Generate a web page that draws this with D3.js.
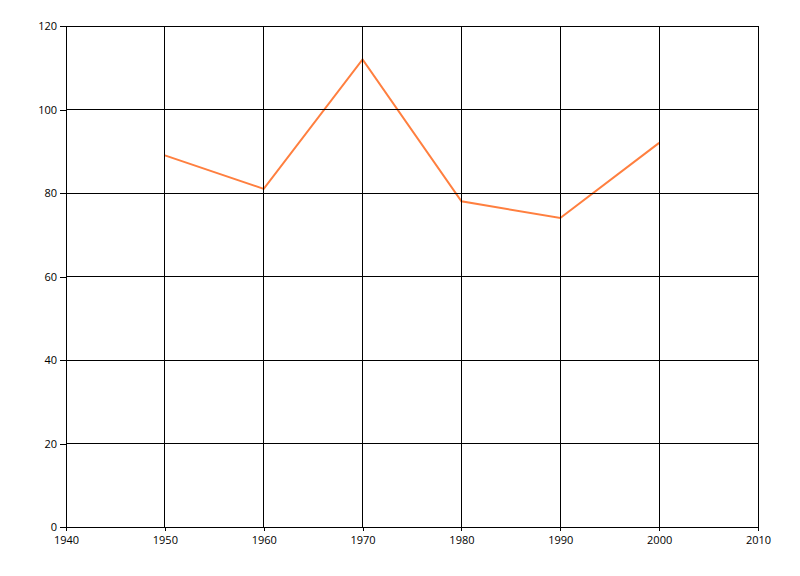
<!DOCTYPE html>
<html>
<head>
<meta charset="utf-8">
<script src="https://cdn.jsdelivr.net/npm/d3@7"></script>
<style>
  body { margin: 0; background: #fff; }
  text { font-family: "Open Sans", "Liberation Sans", sans-serif; font-size: 11px; fill: #000; }
</style>
</head>
<body>
<svg></svg>
<script>
const [WIDTH, HEIGHT] = [800, 576]

const years = [1950, 1960, 1970, 1980, 1990, 2000]
const values = [89, 81, 112, 78, 74, 92]
const xTicks = [1940, 1950, 1960, 1970, 1980, 1990, 2000, 2010]
const yTicks = [0, 20, 40, 60, 80, 100, 120]

const margin = { left: 66, right: 42, top: 26, bottom: 49 }

const svg = d3.select("svg")
    .attr("width", WIDTH)
    .attr("height", HEIGHT)

const x = d3.scaleLinear()
    .domain([1940, 2010])
    .range([margin.left, WIDTH - margin.right])

const y = d3.scaleLinear()
    .domain([0, 120])
    .range([HEIGHT - margin.bottom, margin.top])

// series line (grid is drawn over it)
const line = d3.line()
    .x((d, i) => x(years[i]))
    .y(d => y(d))

svg.append("path")
    .datum(values)
    .attr("fill", "none")
    .attr("stroke", "#ff7f3f")
    .attr("stroke-width", 2)
    .attr("d", line)

// grid
const grid = svg.append("g").attr("shape-rendering", "crispEdges")
grid.selectAll("line.v")
    .data(xTicks)
    .join("line")
    .attr("class", "v")
    .attr("x1", d => x(d)).attr("x2", d => x(d))
    .attr("y1", y(120)).attr("y2", y(0))
    .attr("stroke", "#000")
grid.selectAll("line.h")
    .data(yTicks)
    .join("line")
    .attr("class", "h")
    .attr("x1", x(1940)).attr("x2", x(2010))
    .attr("y1", d => y(d)).attr("y2", d => y(d))
    .attr("stroke", "#000")

// axes
const xAxis = svg.append("g")
    .attr("transform", `translate(0,${y(0)})`)
    .call(d3.axisBottom(x).tickValues(xTicks).tickFormat(d3.format("d")).tickSize(4).tickPadding(5))
const yAxis = svg.append("g")
    .attr("transform", `translate(${x(1940)},0)`)
    .call(d3.axisLeft(y).tickValues(yTicks).tickSize(6).tickPadding(3))

for (const ax of [xAxis, yAxis]) {
    ax.attr("shape-rendering", "crispEdges")
    ax.select(".domain").remove()
    ax.selectAll("text").attr("font-size", 11).attr("font-family", null)
}
</script>
</body>
</html>
